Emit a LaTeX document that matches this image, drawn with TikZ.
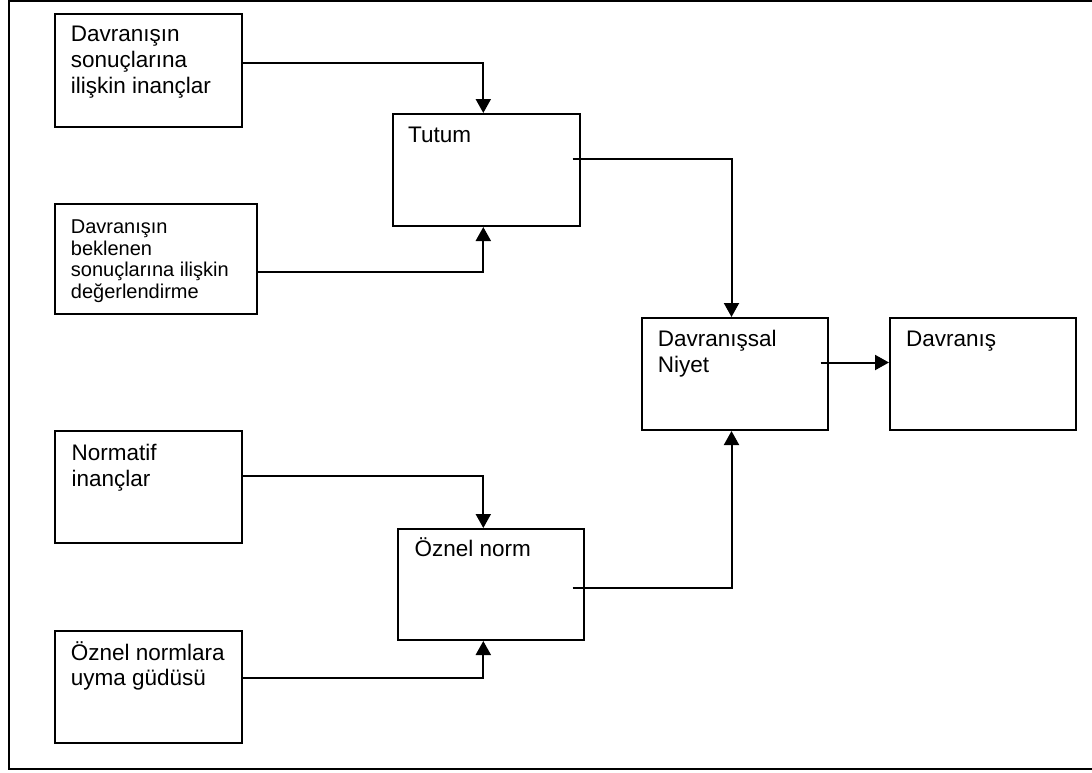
\documentclass[tikz,border=0pt]{standalone}
\usepackage{fontspec}
\setmainfont{Liberation Sans}
\usetikzlibrary{arrows.meta}
\begin{document}
\begin{tikzpicture}[x=1pt,y=-1pt,
  box/.style={draw, line width=2pt, rectangle, inner sep=0pt, anchor=north west},
  % texts are placed by the baseline of their last line
  label/.style={anchor=base west, inner sep=0pt, align=left,
    font=\fontsize{22.5}{26}\selectfont},
  smalllabel/.style={label, font=\fontsize{20}{21.7}\selectfont},
  link/.style={line width=2pt, -{Triangle[length=14pt,width=15pt]}}]
\useasboundingbox (0,0) rectangle (1092,772);

% outer frame (its right side lies beyond the page)
\draw[line width=2.5pt] (1110,1) -- (9,1) -- (9,769) -- (1110,769);

% boxes
\node[box, minimum width=187pt, minimum height=113pt] (inanc) at (54,13) {};
\node[box, minimum width=202pt, minimum height=110pt] (deger) at (54,203) {};
\node[box, minimum width=187pt, minimum height=112pt] (tutum) at (392,113) {};
\node[box, minimum width=186pt, minimum height=112pt] (niyet) at (641,317) {};
\node[box, minimum width=186pt, minimum height=112pt] (davranis) at (889,317) {};
\node[box, minimum width=187pt, minimum height=112pt] (normatif) at (54,430) {};
\node[box, minimum width=186pt, minimum height=111pt] (oznel) at (397,528) {};
\node[box, minimum width=187pt, minimum height=112pt] (guduu) at (54,630) {};

% texts
\node[label] (t-inanc) at (70.7,93.7) {Davranışın\\sonuçlarına\\ilişkin inançlar};
\node[smalllabel] (t-deger) at (70.7,298.4) {Davranışın\\beklenen\\sonuçlarına ilişkin\\değerlendirme};
\node[label] (t-tutum) at (408,142.7) {Tutum};
\node[label, font=\fontsize{22.5}{25.3}\selectfont] (t-niyet) at (657.7,372) {Davranışsal\\Niyet};
\node[label] (t-davranis) at (906,346.7) {Davranış};
\node[label, font=\fontsize{22.5}{25.3}\selectfont] (t-normatif) at (71.5,486) {Normatif\\inançlar};
\node[label] (t-oznel) at (414.3,556.7) {Öznel norm};
\node[label, font=\fontsize{22.5}{24.3}\selectfont] (t-guduu) at (70.7,685) {Öznel normlara\\uyma güdüsü};

% junction points
\coordinate (j1) at (483.3,63);
\coordinate (j2) at (483.3,272);
\coordinate (tout) at (572.5,159);
\coordinate (j3) at (731.5,159);
\coordinate (nout) at (820.7,362.5);
\coordinate (j5) at (483.3,476);
\coordinate (j6) at (483.3,678);
\coordinate (oout) at (572.5,588);
\coordinate (j7) at (731.5,588);

% connectors
\draw[link] (inanc.east |- j1) -- (j1) -- (j1 |- tutum.north);
\draw[link] (deger.east |- j2) -- (j2) -- (j2 |- tutum.south);
\draw[link] (tout) -- (j3) -- (j3 |- niyet.north);
\draw[link] (nout) -- (nout -| davranis.west);
\draw[link] (normatif.east |- j5) -- (j5) -- (j5 |- oznel.north);
\draw[link] (guduu.east |- j6) -- (j6) -- (j6 |- oznel.south);
\draw[link] (oout) -- (j7) -- (j7 |- niyet.south);
\end{tikzpicture}
\end{document}
